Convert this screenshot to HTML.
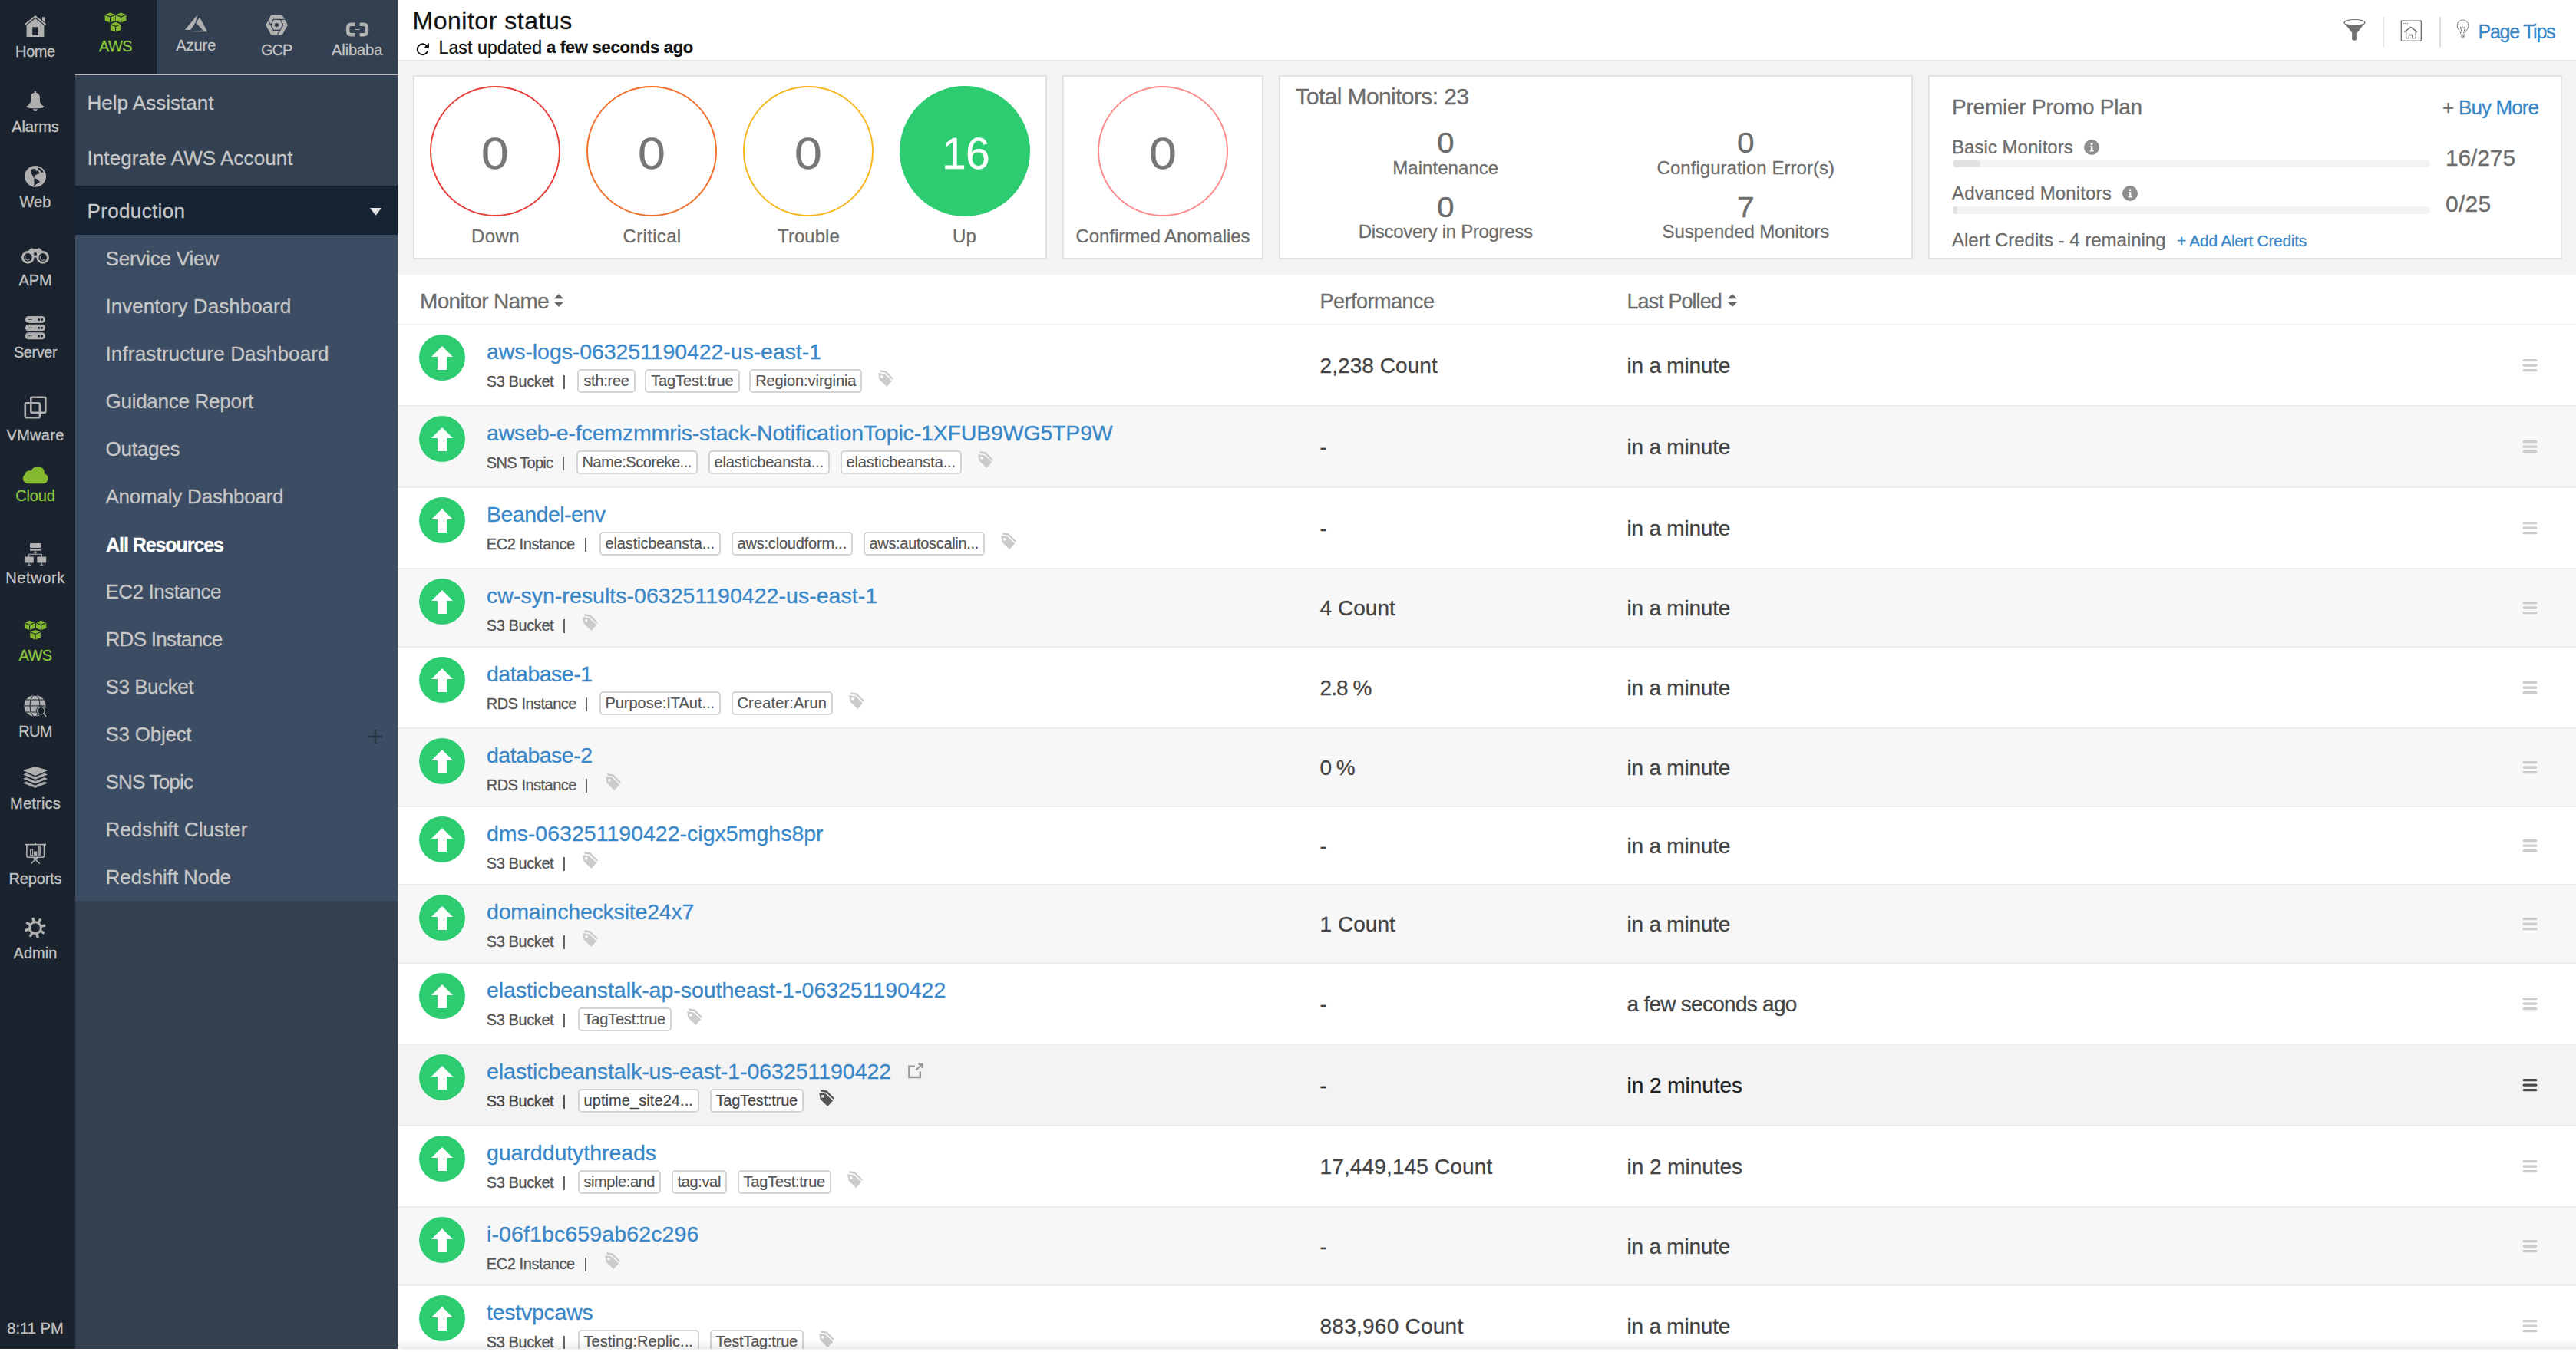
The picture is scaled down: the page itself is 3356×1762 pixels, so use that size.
<!DOCTYPE html>
<html lang="en"><head><meta charset="utf-8"><title>Monitor status</title>
<style>
*{box-sizing:border-box;margin:0;padding:0}
html,body{width:3356px;height:1762px;overflow:hidden;background:#fff}
body{font-family:"Liberation Sans",sans-serif;position:relative;color:#444}
.t{position:absolute;white-space:nowrap;-webkit-text-stroke:.3px currentColor}
.abs{position:absolute}
svg{position:absolute;overflow:visible}
#nav{position:absolute;left:0;top:0;width:98px;height:1758px;background:#1b242e}
#side{position:absolute;left:98px;top:0;width:420px;height:1758px;background:#334051}
#main{position:absolute;left:518px;top:0;width:2838px;height:1762px;background:#fff}
.card{position:absolute;top:98px;height:240px;background:#fff;border:2px solid #e2e2e2}
.circ{position:absolute;width:170px;height:170px;border-radius:50%;border:2px solid #000;top:112px}
.row{position:absolute;left:518px;width:2838px;border-bottom:2px solid #ededed}
.up{position:absolute;width:60px;height:60px;border-radius:50%;background:#2ecc71}
.tag{position:absolute;height:31px;border:2px solid #d4d4d4;border-radius:5px;background:#fff;font-size:20px;line-height:26.5px;color:#555;white-space:nowrap;overflow:hidden;text-align:center;-webkit-text-stroke:.2px currentColor}
</style></head><body>

<div id="nav"></div><div id="side"></div><div id="main"></div>
<div class="t " style="left:20.1px;top:55.0px;font-size:20px;line-height:24px;color:#c3c3c3;letter-spacing:-0.41px;">Home</div>
<div class="t " style="left:15.2px;top:153.1px;font-size:20px;line-height:24px;color:#c3c3c3;letter-spacing:-0.12px;">Alarms</div>
<div class="t " style="left:25.5px;top:250.7px;font-size:20px;line-height:24px;color:#c3c3c3;letter-spacing:0.08px;">Web</div>
<div class="t " style="left:24.4px;top:352.5px;font-size:20px;line-height:24px;color:#c3c3c3;letter-spacing:-0.05px;">APM</div>
<div class="t " style="left:17.9px;top:447.1px;font-size:20px;line-height:24px;color:#c3c3c3;letter-spacing:-0.45px;">Server</div>
<div class="t " style="left:8.5px;top:555.1px;font-size:20px;line-height:24px;color:#c3c3c3;letter-spacing:0.29px;">VMware</div>
<div class="t " style="left:20.2px;top:634.4px;font-size:20px;line-height:24px;color:#8cc63f;letter-spacing:-0.13px;">Cloud</div>
<div class="t " style="left:7.2px;top:741.0px;font-size:20px;line-height:24px;color:#c3c3c3;letter-spacing:0.61px;">Network</div>
<div class="t " style="left:24.4px;top:842.1px;font-size:20px;line-height:24px;color:#8cc63f;letter-spacing:-0.54px;">AWS</div>
<div class="t " style="left:24.2px;top:940.7px;font-size:20px;line-height:24px;color:#c3c3c3;letter-spacing:-0.68px;">RUM</div>
<div class="t " style="left:13.0px;top:1034.5px;font-size:20px;line-height:24px;color:#c3c3c3;letter-spacing:0.22px;">Metrics</div>
<div class="t " style="left:11.6px;top:1132.8px;font-size:20px;line-height:24px;color:#c3c3c3;letter-spacing:-0.19px;">Reports</div>
<div class="t " style="left:17.5px;top:1230.4px;font-size:20px;line-height:24px;color:#c3c3c3;letter-spacing:0.06px;">Admin</div>
<div class="t " style="left:9.3px;top:1718.8px;font-size:20px;line-height:24px;color:#c3c3c3;letter-spacing:0.06px;">8:11 PM</div>
<div class="abs" style="left:98px;top:0;width:106px;height:96px;background:#1b242e"></div>
<div class="abs" style="left:98px;top:96px;width:420px;height:2px;background:#b4b8bd"></div>
<div class="t " style="left:129.0px;top:48.3px;font-size:20px;line-height:24px;color:#8cc63f;letter-spacing:-0.61px;">AWS</div>
<div class="t " style="left:229.2px;top:47.0px;font-size:20px;line-height:24px;color:#c3c3c3;letter-spacing:-0.01px;">Azure</div>
<div class="t " style="left:340.0px;top:52.8px;font-size:20px;line-height:24px;color:#c3c3c3;letter-spacing:-1.05px;">GCP</div>
<div class="t " style="left:432.0px;top:52.8px;font-size:20px;line-height:24px;color:#c3c3c3;letter-spacing:-0.07px;">Alibaba</div>
<svg style="left:0;top:0" width="98" height="1300"><g fill="#b0b0b0"><path d="M46 23.9L57.4 32.9V48.1H34.6V32.9ZM42.2 35.2V45.9H49.8V35.2Z" fill-rule="evenodd"/><path d="M55 22.2H58.8V28.9L55 25.9Z"/><path d="M32.4 32.3L46 21.2L59.6 32.3" fill="none" stroke="#b0b0b0" stroke-width="1.9"/></g><g transform="translate(34 118)" fill="#b0b0b0"><circle cx="11.9" cy="1.9" r="1.4"/><path d="M11.9 2.8C8 2.8 6 5.6 6 9V13.5C6 16.5 4 18.6 .2 20.9C.2 22.6 6 23.2 11.9 23.2S23.6 22.6 23.6 20.9C19.8 18.6 17.9 16.5 17.9 13.5V9C17.9 5.6 15.8 2.8 11.9 2.8Z"/><path d="M9 24.3H14.8A2.9 2.7 0 0 1 9 24.3Z"/></g><g transform="translate(32 215)"><circle cx="14.1" cy="14.8" r="13.9" fill="#b0b0b0"/><path d="M8.3 6.2L10.5 5.3L13.6 4.9L14.4 6.2L15.6 6.6L14.6 8.6L16.4 7.6L17.8 7.2L18.6 9.2L19.6 10.6L18.4 11.4L16.2 12.2L14.4 13L13.4 14.4L12.8 15.4L11.6 15.8L10.6 14.4L10.2 12.8L8.8 11.8L8.2 10.4L8.6 8.6L8 7.4Z M17.2 3.6L20.4 4.6L22.8 6.6L24.8 9.4L23.4 9.6L21.4 10L20.8 8L19 6.4L17.4 5.2Z M13.2 17.8L14.6 17.6L16.4 18.4L18.4 20.2L20 22.4L18.4 23.2L16.6 24.2L14.6 25.4L13.4 26.6L11.6 28.4L12.4 25.4L12.8 22.6L12.2 20.4L12.2 18.6Z M11.4 15L13.6 17.4L13 17.8L10.8 15.6Z" fill="#1b242e"/></g><g><path d="M34.5 335.4C34.5 330 37 325.5 39.6 324.2C40.2 323 42.6 323 43.2 324.2H48.8C49.4 323 51.8 323 52.4 324.2C55 325.5 57.5 330 57.5 335.4Z" fill="#b0b0b0"/><circle cx="36.3" cy="335.4" r="8.3" fill="#b0b0b0"/><circle cx="55.7" cy="335.4" r="8.3" fill="#b0b0b0"/><circle cx="36.3" cy="335.4" r="5.3" fill="#1b242e"/><circle cx="55.7" cy="335.4" r="5.3" fill="#1b242e"/><path d="M33.4 333.5A3.6 3.6 0 0 0 38.6 338.4M52.8 333.5A3.6 3.6 0 0 0 58 338.4" stroke="#b0b0b0" stroke-width="1" fill="none"/><circle cx="46" cy="331" r="2" fill="#1b242e"/></g><rect x="32.9" y="412" width="26.1" height="8.9" rx="4.45" fill="#b0b0b0"/><circle cx="50.7" cy="416.6" r="1.5" fill="#1b242e"/><circle cx="54.6" cy="416.6" r="1.5" fill="#1b242e"/><path d="M36 416.5H41.5" stroke="#1b242e" stroke-width="1" stroke-dasharray="1.5 .6"/><rect x="32.9" y="422.7" width="26.1" height="8.9" rx="4.45" fill="#b0b0b0"/><circle cx="50.7" cy="427.3" r="1.5" fill="#1b242e"/><circle cx="54.6" cy="427.3" r="1.5" fill="#1b242e"/><path d="M36 427.2H41.5" stroke="#1b242e" stroke-width="1" stroke-dasharray="1.5 .6"/><rect x="32.9" y="433.3" width="26.1" height="8.9" rx="4.45" fill="#b0b0b0"/><circle cx="50.7" cy="437.90000000000003" r="1.5" fill="#1b242e"/><circle cx="54.6" cy="437.90000000000003" r="1.5" fill="#1b242e"/><path d="M36 437.8H41.5" stroke="#1b242e" stroke-width="1" stroke-dasharray="1.5 .6"/><g fill="none" stroke="#b0b0b0" stroke-width="2.6"><rect x="40.3" y="517.7" width="19" height="20" rx="1.5"/><rect x="32.8" y="525.2" width="19" height="19" rx="1.5"/></g><g fill="#84b82e"><circle cx="49.2" cy="616.6" r="8.9"/><circle cx="38.4" cy="619.6" r="6.3"/><rect x="29.8" y="616.9" width="32.8" height="13.3" rx="6.6"/></g><g fill="#b0b0b0"><rect x="39" y="708.1" width="14.1" height="6" rx="1"/><rect x="39" y="715" width="14.1" height="2.7" rx="1"/><rect x="31.9" y="725.6" width="11.9" height="7.9" rx="1"/><rect x="48.3" y="725.6" width="11.9" height="7.9" rx="1"/><path d="M46 717.5V722.3M37.8 725.8V722.3H54.3V725.8M43.7 720H48.3M37.8 733.4V736M54.3 733.4V736M35.7 736.2H40M52.2 736.2H56.5" stroke="#b0b0b0" stroke-width="1.1" fill="none"/></g><path d="M38.6 808.8L45.3 811.6V818.6L38.6 821.3L31.9 818.6V811.6Z" fill="#84b82e"/><path d="M31.9 811.6L38.6 814.4L45.3 811.6M38.6 814.4V821.3" stroke="#1b242e" stroke-width="1.1" fill="none"/><path d="M53.6 808.8L60.3 811.6V818.6L53.6 821.3L46.9 818.6V811.6Z" fill="#84b82e"/><path d="M46.9 811.6L53.6 814.4L60.3 811.6M53.6 814.4V821.3" stroke="#1b242e" stroke-width="1.1" fill="none"/><path d="M46.0 820.9L52.8 823.7V831.0L46.0 833.7L39.3 831.0V823.7Z" fill="#84b82e"/><path d="M39.3 823.7L46.0 826.5L52.8 823.7M46.0 826.5V833.7" stroke="#1b242e" stroke-width="1.1" fill="none"/><g><circle cx="45.5" cy="919.9" r="14" fill="#b0b0b0"/><g stroke="#1b242e" stroke-width="1" fill="none"><path d="M45.5 906V934M31.5 919.9H59.5M34 912H57M34 928H57"/><ellipse cx="45.5" cy="919.9" rx="6.5" ry="14"/></g><circle cx="53.4" cy="926.2" r="6.3" fill="#1b242e"/><circle cx="53.4" cy="926.2" r="4.8" fill="none" stroke="#b0b0b0" stroke-width="1.2"/><path d="M56.9 929.8L60.2 933.9" stroke="#b0b0b0" stroke-width="1.4"/></g><g fill="#b0b0b0"><path d="M46 999.6L61.3 1004L46 1010.4L30.8 1004Z" stroke="#b0b0b0" stroke-width="1" stroke-linejoin="round"/><path d="M30.8 1009.5L34 1007.9L46 1012.9L58 1007.9L61.3 1009.5L46 1015.5Z" stroke="#b0b0b0" stroke-width=".6" stroke-linejoin="round"/><path d="M30.8 1015L34 1013.4L46 1018.4L58 1013.4L61.3 1015L46 1021Z" stroke="#b0b0b0" stroke-width=".6" stroke-linejoin="round"/><path d="M30.8 1020.5L34 1018.9L46 1023.9L58 1018.9L61.3 1020.5L46 1026.5Z" stroke="#b0b0b0" stroke-width=".6" stroke-linejoin="round"/></g><g fill="none" stroke="#b0b0b0" stroke-width="1.6"><path d="M32.1 1100.6H60M46 1098V1100.6"/><path d="M34.9 1101V1115.2Q34.9 1117.2 36.9 1117.2H55.5Q57.5 1117.2 57.5 1115.2V1101"/><rect x="39.6" y="1107" width="3" height="7.4" stroke-width="1.1"/><path d="M46 1120L40.4 1125.8M46 1120L51.8 1125.8" stroke-width="1.5"/></g><rect x="44" y="1109.5" width="4.3" height="5.4" fill="#b0b0b0"/><rect x="49" y="1102.4" width="4.1" height="12.5" fill="#b0b0b0" opacity=".8"/><rect x="43.5" y="1117.8" width="5.6" height="2.6" fill="#b0b0b0"/><circle cx="46" cy="1209.2" r="7.4" fill="none" stroke="#b0b0b0" stroke-width="3"/><path d="M44.2 1202.0L42.7 1196.0M49.8 1202.9L53.0 1197.5M53.2 1207.4L59.2 1205.9M52.3 1213.0L57.7 1216.2M47.8 1216.4L49.3 1222.4M42.2 1215.5L39.0 1220.9M38.8 1211.0L32.8 1212.5M39.7 1205.4L34.3 1202.2" stroke="#b0b0b0" stroke-width="3.4"/></svg>
<svg style="left:0;top:0" width="518" height="96"><path d="M143.5 16.5L150.3 19.3V26.9L143.5 29.6L136.7 26.9V19.3Z" fill="#84b82e"/><path d="M136.7 19.3L143.5 22.1L150.3 19.3M143.5 22.1V29.6" stroke="#1b242e" stroke-width="1.1" fill="none"/><path d="M157.6 16.5L164.4 19.3V26.9L157.6 29.6L150.8 26.9V19.3Z" fill="#84b82e"/><path d="M150.8 19.3L157.6 22.1L164.4 19.3M157.6 22.1V29.6" stroke="#1b242e" stroke-width="1.1" fill="none"/><path d="M150.6 28.7L157.4 31.5V39.1L150.6 41.8L143.8 39.1V31.5Z" fill="#84b82e"/><path d="M143.8 31.5L150.6 34.3L157.4 31.5M150.6 34.3V41.8" stroke="#1b242e" stroke-width="1.1" fill="none"/><g fill="#b0b0b0"><path d="M257.7 18.7L240.9 39H248.3L254.6 29.3Z"/><path d="M260.1 22.5L270.1 41.3H249L264.6 39.6L255.2 30Z"/></g><path d="M346.6 32.6L353.5 19.9H367.4L374.4 32.6L367.4 45.1H353.5Z" fill="#b0b0b0" stroke="#b0b0b0" stroke-width="1" stroke-linejoin="round"/><path d="M352.8 32.6L356.2 25.4H365.2L369 32.6L364.7 39.3H356.3ZM365 25.4H370.4M349.4 26.6L352.9 32.8M364.8 39.2L361.5 45.2" stroke="#334051" stroke-width="1.15" fill="none"/><circle cx="360.5" cy="32.6" r="2.7" fill="#334051"/><g fill="none" stroke="#b0b0b0" stroke-width="4.4" stroke-linejoin="round"><path d="M462.5 31.7H457.5Q453.2 31.7 453.2 36V41Q453.2 45.3 457.5 45.3H462.5"/><path d="M468.7 31.7H473.7Q478 31.7 478 36V41Q478 45.3 473.7 45.3H468.7"/></g><path d="M462.8 38.5H468.5" stroke="#b0b0b0" stroke-width="1"/></svg>
<div class="t " style="left:113.5px;top:119.3px;font-size:26px;line-height:31px;color:#c6c6c6;letter-spacing:0.02px;">Help Assistant</div>
<div class="t " style="left:113.5px;top:191.2px;font-size:26px;line-height:31px;color:#c6c6c6;letter-spacing:0.08px;">Integrate AWS Account</div>
<div class="abs" style="left:98px;top:242px;width:420px;height:64px;background:#152333"></div>
<div class="t " style="left:113.5px;top:259.5px;font-size:26px;line-height:31px;color:#c6c6c6;letter-spacing:0.35px;">Production</div>
<svg style="left:482px;top:271px" width="15" height="10"><path d="M0 0H15L7.5 10Z" fill="#e4e4e4"/></svg>
<div class="abs" style="left:98px;top:306px;width:420px;height:868px;background:#3c4c63"></div>
<div class="t " style="left:137.5px;top:321.7px;font-size:26px;line-height:31px;color:#c6c6c6;letter-spacing:-0.21px;">Service View</div>
<div class="t " style="left:137.5px;top:383.7px;font-size:26px;line-height:31px;color:#c6c6c6;letter-spacing:0.02px;">Inventory Dashboard</div>
<div class="t " style="left:137.5px;top:445.7px;font-size:26px;line-height:31px;color:#c6c6c6;letter-spacing:0.15px;">Infrastructure Dashboard</div>
<div class="t " style="left:137.5px;top:507.7px;font-size:26px;line-height:31px;color:#c6c6c6;letter-spacing:-0.27px;">Guidance Report</div>
<div class="t " style="left:137.5px;top:569.7px;font-size:26px;line-height:31px;color:#c6c6c6;letter-spacing:-0.23px;">Outages</div>
<div class="t " style="left:137.5px;top:631.7px;font-size:26px;line-height:31px;color:#c6c6c6;letter-spacing:-0.22px;">Anomaly Dashboard</div>
<div class="t " style="left:138.0px;top:694.5px;font-size:25px;line-height:30px;color:#ffffff;letter-spacing:-1.06px;font-weight:bold;">All Resources</div>
<div class="t " style="left:137.5px;top:755.7px;font-size:26px;line-height:31px;color:#c6c6c6;letter-spacing:-0.47px;">EC2 Instance</div>
<div class="t " style="left:137.5px;top:817.7px;font-size:26px;line-height:31px;color:#c6c6c6;letter-spacing:-0.70px;">RDS Instance</div>
<div class="t " style="left:137.5px;top:879.7px;font-size:26px;line-height:31px;color:#c6c6c6;letter-spacing:-0.45px;">S3 Bucket</div>
<div class="t " style="left:137.5px;top:941.7px;font-size:26px;line-height:31px;color:#c6c6c6;letter-spacing:-0.26px;">S3 Object</div>
<div class="t " style="left:137.5px;top:1003.7px;font-size:26px;line-height:31px;color:#c6c6c6;letter-spacing:-0.80px;">SNS Topic</div>
<div class="t " style="left:137.5px;top:1065.7px;font-size:26px;line-height:31px;color:#c6c6c6;letter-spacing:-0.01px;">Redshift Cluster</div>
<div class="t " style="left:137.5px;top:1127.7px;font-size:26px;line-height:31px;color:#c6c6c6;letter-spacing:-0.11px;">Redshift Node</div>
<svg style="left:479px;top:950px" width="20" height="20"><path d="M10 1V19M1 10H19" stroke="#27323f" stroke-width="2.4" fill="none"/></svg>
<div class="t " style="left:537.5px;top:7.8px;font-size:32px;line-height:38px;color:#111;letter-spacing:0.52px;">Monitor status</div>
<div class="t " style="left:571.5px;top:47.5px;font-size:23px;line-height:28px;color:#111;letter-spacing:0.13px;">Last updated</div>
<div class="t " style="left:712.0px;top:48.9px;font-size:22px;line-height:26px;color:#111;letter-spacing:-0.27px;font-weight:bold;">a few seconds ago</div>
<div class="abs" style="left:518px;top:78px;width:2838px;height:280px;background:#f1f3f5;border-top:2px solid #e2e2e2"></div>
<div class="t " style="left:3228.5px;top:25.5px;font-size:25px;line-height:30px;color:#3a87c8;letter-spacing:-1.27px;">Page Tips</div>
<div class="abs" style="left:3104px;top:22px;width:2px;height:39px;background:#dcdcdc"></div>
<div class="abs" style="left:3178px;top:22px;width:2px;height:39px;background:#dcdcdc"></div>
<svg style="left:0;top:0" width="3356" height="78"><path d="M3053.8 29.4L3064.1 42.8V51Q3064.1 52.7 3067.5 52.7T3070.9 51V42.8L3081.2 29.4Q3067.5 36 3053.8 29.4Z" fill="#707070"/><ellipse cx="3067.5" cy="29.4" rx="13.4" ry="3.9" fill="#fff" stroke="#707070" stroke-width="1.2"/><g fill="none" stroke="#707070" stroke-width="1.3"><rect x="3128.3" y="27.1" width="26" height="26.2"/><path d="M3132.2 41.6L3140.7 35.4L3149.3 41.6M3134.6 40.2V49.6H3138.4V45.5H3142.8V49.6H3147.2V40.2"/><path d="M3130.8 30.6H3137" stroke-dasharray="1.4 1" stroke-width="1"/></g><g fill="none" stroke="#808080" stroke-width="1"><path d="M3205.9 44.2C3205.6 40 3201.1 38.5 3201.1 33.3A7.4 7.4 0 0 1 3215.9 33.3C3215.9 38.5 3211.4 40 3211.1 44.2"/><path d="M3205.4 35L3207.4 43.5M3211.6 35L3209.6 43.5M3205.4 35L3207 36.4L3208.5 35L3210 36.4L3211.6 35"/><path d="M3206 45.4H3211M3206 47.2H3211M3206.3 49H3210.7" stroke-width="1.2"/></g><g fill="none" stroke="#111" stroke-width="1.9"><path d="M556.3 60.1A7 7 0 1 0 557.3 66.3"/></g><path d="M552.3 62.2L558.9 62.4L558.8 55.8Z" fill="#111"/></svg>
<div class="card" style="left:538px;width:826px"></div>
<div class="card" style="left:1384px;width:262px"></div>
<div class="card" style="left:1666px;width:826px"></div>
<div class="card" style="left:2512px;width:826px"></div>
<div class="circ" style="left:560px;border-color:#e8403a"></div>
<div class="t " style="left:629.1px;top:166.2px;font-size:57px;line-height:68px;color:#777;transform:scaleX(1.13);">0</div>
<div class="t " style="left:614.1px;top:292.7px;font-size:24px;line-height:29px;color:#6c6c6c;letter-spacing:0.36px;">Down</div>
<div class="circ" style="left:764px;border-color:#f0702c"></div>
<div class="t " style="left:833.1px;top:166.2px;font-size:57px;line-height:68px;color:#777;transform:scaleX(1.13);">0</div>
<div class="t " style="left:811.5px;top:292.7px;font-size:24px;line-height:29px;color:#6c6c6c;letter-spacing:0.33px;">Critical</div>
<div class="circ" style="left:968px;border-color:#f7b71d"></div>
<div class="t " style="left:1037.1px;top:166.2px;font-size:57px;line-height:68px;color:#777;transform:scaleX(1.13);">0</div>
<div class="t " style="left:1013.1px;top:292.7px;font-size:24px;line-height:29px;color:#6c6c6c;letter-spacing:0.03px;">Trouble</div>
<div class="circ" style="left:1172px;border-color:#2ecc71;background:#2ecc71"></div>
<div class="t " style="left:1227.0px;top:166.2px;font-size:57px;line-height:68px;color:#fff;letter-spacing:-0.70px;">16</div>
<div class="t " style="left:1241.0px;top:292.7px;font-size:24px;line-height:29px;color:#6c6c6c;letter-spacing:0.16px;">Up</div>
<div class="circ" style="left:1430px;border-color:#ff8c8c"></div>
<div class="t " style="left:1499.1px;top:166.2px;font-size:57px;line-height:68px;color:#777;transform:scaleX(1.13);">0</div>
<div class="t " style="left:1401.5px;top:292.7px;font-size:24px;line-height:29px;color:#6c6c6c;letter-spacing:-0.06px;">Confirmed Anomalies</div>
<div class="t " style="left:1687.5px;top:107.6px;font-size:30px;line-height:36px;color:#6c6c6c;letter-spacing:-0.61px;">Total Monitors: 23</div>
<div class="t " style="left:1873.0px;top:165.2px;font-size:37px;line-height:44px;color:#6c6c6c;transform:scaleX(1.1);">0</div>
<div class="t " style="left:1814.2px;top:203.6px;font-size:24px;line-height:29px;color:#6c6c6c;letter-spacing:0.06px;">Maintenance</div>
<div class="t " style="left:2264.0px;top:165.2px;font-size:37px;line-height:44px;color:#6c6c6c;transform:scaleX(1.1);">0</div>
<div class="t " style="left:2158.6px;top:203.6px;font-size:24px;line-height:29px;color:#6c6c6c;letter-spacing:0.03px;">Configuration Error(s)</div>
<div class="t " style="left:1873.0px;top:248.8px;font-size:37px;line-height:44px;color:#6c6c6c;transform:scaleX(1.1);">0</div>
<div class="t " style="left:1769.8px;top:287.2px;font-size:24px;line-height:29px;color:#6c6c6c;letter-spacing:-0.31px;">Discovery in Progress</div>
<div class="t " style="left:2264.0px;top:248.8px;font-size:37px;line-height:44px;color:#6c6c6c;transform:scaleX(1.1);">7</div>
<div class="t " style="left:2165.6px;top:287.2px;font-size:24px;line-height:29px;color:#6c6c6c;letter-spacing:-0.15px;">Suspended Monitors</div>
<div class="t " style="left:2543.0px;top:123.0px;font-size:28px;line-height:34px;color:#6c6c6c;letter-spacing:-0.23px;">Premier Promo Plan</div>
<div class="t " style="left:3182.0px;top:125.2px;font-size:26px;line-height:31px;color:#6c6c6c;">+</div>
<div class="t " style="left:3203.0px;top:125.2px;font-size:26px;line-height:31px;color:#3a87c8;letter-spacing:-0.91px;">Buy More</div>
<div class="t " style="left:2543.0px;top:177.2px;font-size:24px;line-height:29px;color:#6c6c6c;letter-spacing:0.03px;">Basic Monitors</div>
<div class="t " style="left:2543.0px;top:237.4px;font-size:24px;line-height:29px;color:#6c6c6c;letter-spacing:0.14px;">Advanced Monitors</div>
<svg style="left:2715.2px;top:182.2px" width="20" height="20" viewBox="0 0 20 20"><circle cx="10" cy="10" r="10" fill="#8e8e8e"/><path d="M8 8.2h3.4v5.6h1.2v1.6H7.6v-1.6h1.3V9.8H8zM8.7 4.6h2.6v2.3H8.7z" fill="#fff"/></svg>
<svg style="left:2764.6px;top:242px" width="20" height="20" viewBox="0 0 20 20"><circle cx="10" cy="10" r="10" fill="#8e8e8e"/><path d="M8 8.2h3.4v5.6h1.2v1.6H7.6v-1.6h1.3V9.8H8zM8.7 4.6h2.6v2.3H8.7z" fill="#fff"/></svg>
<div class="abs" style="left:2544px;top:208px;width:622px;height:10px;border-radius:5px;background:#f3f3f3"></div>
<div class="abs" style="left:2544px;top:208px;width:36px;height:10px;border-radius:5px;background:#e2e2e2"></div>
<div class="abs" style="left:2544px;top:268.5px;width:622px;height:10px;border-radius:5px;background:#f3f3f3"></div>
<div class="abs" style="left:2544px;top:268.5px;width:6px;height:10px;border-radius:3px 0 0 3px;background:#e2e2e2"></div>
<div class="t " style="left:3186.0px;top:187.6px;font-size:30px;line-height:36px;color:#6c6c6c;letter-spacing:-0.13px;">16/275</div>
<div class="t " style="left:3186.0px;top:247.8px;font-size:30px;line-height:36px;color:#6c6c6c;letter-spacing:0.28px;">0/25</div>
<div class="t " style="left:2543.0px;top:297.6px;font-size:24px;line-height:29px;color:#6c6c6c;letter-spacing:-0.01px;">Alert Credits - 4 remaining</div>
<div class="t " style="left:2836.0px;top:300.6px;font-size:21px;line-height:25px;color:#3a87c8;letter-spacing:-0.29px;">+ Add Alert Credits</div>
<div class="t " style="left:547.0px;top:375.9px;font-size:28px;line-height:34px;color:#6c6c6c;letter-spacing:-0.65px;">Monitor Name</div>
<div class="t " style="left:1719.5px;top:377.2px;font-size:27px;line-height:32px;color:#6c6c6c;letter-spacing:-0.51px;">Performance</div>
<div class="t " style="left:2119.5px;top:377.2px;font-size:27px;line-height:32px;color:#6c6c6c;letter-spacing:-0.93px;">Last Polled</div>
<svg style="left:721.6px;top:383px" width="12" height="17"><path d="M0 6.2L6 0L12 6.2ZM0 10.8L6 17L12 10.8Z" fill="#666"/></svg>
<svg style="left:2250.7px;top:383px" width="12" height="17"><path d="M0 6.2L6 0L12 6.2ZM0 10.8L6 17L12 10.8Z" fill="#666"/></svg>
<div class="abs" style="left:518px;top:422px;width:2838px;height:2px;background:#ededed"></div>
<div class="row" style="top:424px;height:106px;background:#fff"></div>
<div class="up" style="left:546px;top:436px"><svg style="left:0;top:0" width="60" height="60"><path d="M30 15L44 29H36V46H24V29H16Z" fill="#fff"/></svg></div>
<div class="t " style="left:634.0px;top:441.4px;font-size:28.5px;line-height:34px;color:#3a87c8;letter-spacing:-0.08px;">aws-logs-063251190422-us-east-1</div>
<div class="t " style="left:633.8px;top:484.6px;font-size:20px;line-height:24px;color:#555;letter-spacing:-0.41px;">S3 Bucket</div>
<div class="abs" style="left:734.0px;top:488.7px;width:1.8px;height:18.5px;background:#666"></div>
<div class="tag" style="left:752.4px;top:480.5px;width:75.2px;letter-spacing:-0.28px;color:#555">sth:ree</div>
<div class="tag" style="left:840.2px;top:480.5px;width:123.4px;letter-spacing:-0.13px;color:#555">TagTest:true</div>
<div class="tag" style="left:976.2px;top:480.5px;width:147.2px;letter-spacing:-0.07px;color:#555">Region:virginia</div>
<svg style="left:1144px;top:482px" width="21" height="23" fill="#cbcbcb"><path d="M0.2 4.1L8.7 5.4L18.1 14.6L11.3 22L1.5 12.6ZM4.8 7a1.8 1.8 0 1 0 .01 0ZM2.2 .2L10.2 1.3L20 11.3L18.7 13.1L9 3.7L2.4 2.8Z" fill-rule="evenodd"/></svg>
<div class="t " style="left:1719.5px;top:459.6px;font-size:28px;line-height:34px;color:#444;letter-spacing:0.07px;">2,238 Count</div>
<div class="t " style="left:2119.5px;top:459.6px;font-size:28px;line-height:34px;color:#444;letter-spacing:-0.22px;">in a minute</div>
<svg style="left:3286px;top:468.0px" width="20" height="17"><path d="M2 1.6H18M2 8.1H18M2 14.6H18" stroke="#cccccc" stroke-width="3.1" stroke-linecap="round"/></svg>
<div class="row" style="top:530px;height:106px;background:#f7f7f7"></div>
<div class="up" style="left:546px;top:542px"><svg style="left:0;top:0" width="60" height="60"><path d="M30 15L44 29H36V46H24V29H16Z" fill="#fff"/></svg></div>
<div class="t " style="left:634.0px;top:547.4px;font-size:28.5px;line-height:34px;color:#3a87c8;letter-spacing:-0.17px;">awseb-e-fcemzmmris-stack-NotificationTopic-1XFUB9WG5TP9W</div>
<div class="t " style="left:633.8px;top:590.6px;font-size:20px;line-height:24px;color:#555;letter-spacing:-0.72px;">SNS Topic</div>
<div class="abs" style="left:733.5px;top:594.7px;width:1.8px;height:18.5px;background:#666"></div>
<div class="tag" style="left:750.5px;top:586.5px;width:158.5px;letter-spacing:-0.43px;color:#555">Name:Scoreke...</div>
<div class="tag" style="left:922.5px;top:586.5px;width:158.5px;letter-spacing:-0.12px;color:#555">elasticbeansta...</div>
<div class="tag" style="left:1094.5px;top:586.5px;width:158.5px;letter-spacing:-0.12px;color:#555">elasticbeansta...</div>
<svg style="left:1274px;top:588px" width="21" height="23" fill="#cbcbcb"><path d="M0.2 4.1L8.7 5.4L18.1 14.6L11.3 22L1.5 12.6ZM4.8 7a1.8 1.8 0 1 0 .01 0ZM2.2 .2L10.2 1.3L20 11.3L18.7 13.1L9 3.7L2.4 2.8Z" fill-rule="evenodd"/></svg>
<div class="t " style="left:1719.5px;top:565.6px;font-size:28px;line-height:34px;color:#444;">-</div>
<div class="t " style="left:2119.5px;top:565.6px;font-size:28px;line-height:34px;color:#444;letter-spacing:-0.22px;">in a minute</div>
<svg style="left:3286px;top:574.0px" width="20" height="17"><path d="M2 1.6H18M2 8.1H18M2 14.6H18" stroke="#cccccc" stroke-width="3.1" stroke-linecap="round"/></svg>
<div class="row" style="top:636px;height:106px;background:#fff"></div>
<div class="up" style="left:546px;top:648px"><svg style="left:0;top:0" width="60" height="60"><path d="M30 15L44 29H36V46H24V29H16Z" fill="#fff"/></svg></div>
<div class="t " style="left:634.0px;top:653.4px;font-size:28.5px;line-height:34px;color:#3a87c8;letter-spacing:-0.50px;">Beandel-env</div>
<div class="t " style="left:633.8px;top:696.6px;font-size:20px;line-height:24px;color:#555;letter-spacing:-0.42px;">EC2 Instance</div>
<div class="abs" style="left:762.0px;top:700.7px;width:1.8px;height:18.5px;background:#666"></div>
<div class="tag" style="left:780.5px;top:692.5px;width:158.5px;letter-spacing:-0.12px;color:#555">elasticbeansta...</div>
<div class="tag" style="left:952.5px;top:692.5px;width:158.5px;letter-spacing:-0.19px;color:#555">aws:cloudform...</div>
<div class="tag" style="left:1124.5px;top:692.5px;width:158.5px;letter-spacing:-0.31px;color:#555">aws:autoscalin...</div>
<svg style="left:1304px;top:694px" width="21" height="23" fill="#cbcbcb"><path d="M0.2 4.1L8.7 5.4L18.1 14.6L11.3 22L1.5 12.6ZM4.8 7a1.8 1.8 0 1 0 .01 0ZM2.2 .2L10.2 1.3L20 11.3L18.7 13.1L9 3.7L2.4 2.8Z" fill-rule="evenodd"/></svg>
<div class="t " style="left:1719.5px;top:671.6px;font-size:28px;line-height:34px;color:#444;">-</div>
<div class="t " style="left:2119.5px;top:671.6px;font-size:28px;line-height:34px;color:#444;letter-spacing:-0.22px;">in a minute</div>
<svg style="left:3286px;top:680.0px" width="20" height="17"><path d="M2 1.6H18M2 8.1H18M2 14.6H18" stroke="#cccccc" stroke-width="3.1" stroke-linecap="round"/></svg>
<div class="row" style="top:742px;height:102px;background:#f7f7f7"></div>
<div class="up" style="left:546px;top:754px"><svg style="left:0;top:0" width="60" height="60"><path d="M30 15L44 29H36V46H24V29H16Z" fill="#fff"/></svg></div>
<div class="t " style="left:634.0px;top:759.4px;font-size:28.5px;line-height:34px;color:#3a87c8;letter-spacing:0.03px;">cw-syn-results-063251190422-us-east-1</div>
<div class="t " style="left:633.8px;top:802.6px;font-size:20px;line-height:24px;color:#555;letter-spacing:-0.41px;">S3 Bucket</div>
<div class="abs" style="left:734.0px;top:806.7px;width:1.8px;height:18.5px;background:#666"></div>
<svg style="left:758.5px;top:800px" width="21" height="23" fill="#cbcbcb"><path d="M0.2 4.1L8.7 5.4L18.1 14.6L11.3 22L1.5 12.6ZM4.8 7a1.8 1.8 0 1 0 .01 0ZM2.2 .2L10.2 1.3L20 11.3L18.7 13.1L9 3.7L2.4 2.8Z" fill-rule="evenodd"/></svg>
<div class="t " style="left:1719.5px;top:775.6px;font-size:28px;line-height:34px;color:#444;letter-spacing:0.05px;">4 Count</div>
<div class="t " style="left:2119.5px;top:775.6px;font-size:28px;line-height:34px;color:#444;letter-spacing:-0.22px;">in a minute</div>
<svg style="left:3286px;top:784.0px" width="20" height="17"><path d="M2 1.6H18M2 8.1H18M2 14.6H18" stroke="#cccccc" stroke-width="3.1" stroke-linecap="round"/></svg>
<div class="row" style="top:844px;height:106px;background:#fff"></div>
<div class="up" style="left:546px;top:856px"><svg style="left:0;top:0" width="60" height="60"><path d="M30 15L44 29H36V46H24V29H16Z" fill="#fff"/></svg></div>
<div class="t " style="left:634.0px;top:861.4px;font-size:28.5px;line-height:34px;color:#3a87c8;letter-spacing:-0.51px;">database-1</div>
<div class="t " style="left:633.8px;top:904.6px;font-size:20px;line-height:24px;color:#555;letter-spacing:-0.53px;">RDS Instance</div>
<div class="abs" style="left:763.5px;top:908.7px;width:1.8px;height:18.5px;background:#666"></div>
<div class="tag" style="left:780.5px;top:900.5px;width:158.5px;letter-spacing:-0.03px;color:#555">Purpose:ITAut...</div>
<div class="tag" style="left:952.5px;top:900.5px;width:132.5px;letter-spacing:0.17px;color:#555">Creater:Arun</div>
<svg style="left:1106px;top:902px" width="21" height="23" fill="#cbcbcb"><path d="M0.2 4.1L8.7 5.4L18.1 14.6L11.3 22L1.5 12.6ZM4.8 7a1.8 1.8 0 1 0 .01 0ZM2.2 .2L10.2 1.3L20 11.3L18.7 13.1L9 3.7L2.4 2.8Z" fill-rule="evenodd"/></svg>
<div class="t " style="left:1719.5px;top:879.6px;font-size:28px;line-height:34px;color:#444;letter-spacing:-0.92px;">2.8 %</div>
<div class="t " style="left:2119.5px;top:879.6px;font-size:28px;line-height:34px;color:#444;letter-spacing:-0.22px;">in a minute</div>
<svg style="left:3286px;top:888.0px" width="20" height="17"><path d="M2 1.6H18M2 8.1H18M2 14.6H18" stroke="#cccccc" stroke-width="3.1" stroke-linecap="round"/></svg>
<div class="row" style="top:950px;height:102px;background:#f7f7f7"></div>
<div class="up" style="left:546px;top:962px"><svg style="left:0;top:0" width="60" height="60"><path d="M30 15L44 29H36V46H24V29H16Z" fill="#fff"/></svg></div>
<div class="t " style="left:634.0px;top:967.4px;font-size:28.5px;line-height:34px;color:#3a87c8;letter-spacing:-0.51px;">database-2</div>
<div class="t " style="left:633.8px;top:1010.6px;font-size:20px;line-height:24px;color:#555;letter-spacing:-0.53px;">RDS Instance</div>
<div class="abs" style="left:763.5px;top:1014.7px;width:1.8px;height:18.5px;background:#666"></div>
<svg style="left:788.5px;top:1008px" width="21" height="23" fill="#cbcbcb"><path d="M0.2 4.1L8.7 5.4L18.1 14.6L11.3 22L1.5 12.6ZM4.8 7a1.8 1.8 0 1 0 .01 0ZM2.2 .2L10.2 1.3L20 11.3L18.7 13.1L9 3.7L2.4 2.8Z" fill-rule="evenodd"/></svg>
<div class="t " style="left:1719.5px;top:983.6px;font-size:28px;line-height:34px;color:#444;letter-spacing:-1.08px;">0 %</div>
<div class="t " style="left:2119.5px;top:983.6px;font-size:28px;line-height:34px;color:#444;letter-spacing:-0.22px;">in a minute</div>
<svg style="left:3286px;top:992.0px" width="20" height="17"><path d="M2 1.6H18M2 8.1H18M2 14.6H18" stroke="#cccccc" stroke-width="3.1" stroke-linecap="round"/></svg>
<div class="row" style="top:1052px;height:102px;background:#fff"></div>
<div class="up" style="left:546px;top:1064px"><svg style="left:0;top:0" width="60" height="60"><path d="M30 15L44 29H36V46H24V29H16Z" fill="#fff"/></svg></div>
<div class="t " style="left:634.0px;top:1069.4px;font-size:28.5px;line-height:34px;color:#3a87c8;letter-spacing:0.01px;">dms-063251190422-cigx5mghs8pr</div>
<div class="t " style="left:633.8px;top:1112.6px;font-size:20px;line-height:24px;color:#555;letter-spacing:-0.41px;">S3 Bucket</div>
<div class="abs" style="left:734.0px;top:1116.7px;width:1.8px;height:18.5px;background:#666"></div>
<svg style="left:758.5px;top:1110px" width="21" height="23" fill="#cbcbcb"><path d="M0.2 4.1L8.7 5.4L18.1 14.6L11.3 22L1.5 12.6ZM4.8 7a1.8 1.8 0 1 0 .01 0ZM2.2 .2L10.2 1.3L20 11.3L18.7 13.1L9 3.7L2.4 2.8Z" fill-rule="evenodd"/></svg>
<div class="t " style="left:1719.5px;top:1085.6px;font-size:28px;line-height:34px;color:#444;">-</div>
<div class="t " style="left:2119.5px;top:1085.6px;font-size:28px;line-height:34px;color:#444;letter-spacing:-0.22px;">in a minute</div>
<svg style="left:3286px;top:1094.0px" width="20" height="17"><path d="M2 1.6H18M2 8.1H18M2 14.6H18" stroke="#cccccc" stroke-width="3.1" stroke-linecap="round"/></svg>
<div class="row" style="top:1154px;height:102px;background:#f7f7f7"></div>
<div class="up" style="left:546px;top:1166px"><svg style="left:0;top:0" width="60" height="60"><path d="M30 15L44 29H36V46H24V29H16Z" fill="#fff"/></svg></div>
<div class="t " style="left:634.0px;top:1171.4px;font-size:28.5px;line-height:34px;color:#3a87c8;letter-spacing:-0.21px;">domainchecksite24x7</div>
<div class="t " style="left:633.8px;top:1214.6px;font-size:20px;line-height:24px;color:#555;letter-spacing:-0.41px;">S3 Bucket</div>
<div class="abs" style="left:734.0px;top:1218.7px;width:1.8px;height:18.5px;background:#666"></div>
<svg style="left:758.5px;top:1212px" width="21" height="23" fill="#cbcbcb"><path d="M0.2 4.1L8.7 5.4L18.1 14.6L11.3 22L1.5 12.6ZM4.8 7a1.8 1.8 0 1 0 .01 0ZM2.2 .2L10.2 1.3L20 11.3L18.7 13.1L9 3.7L2.4 2.8Z" fill-rule="evenodd"/></svg>
<div class="t " style="left:1719.5px;top:1187.6px;font-size:28px;line-height:34px;color:#444;letter-spacing:0.05px;">1 Count</div>
<div class="t " style="left:2119.5px;top:1187.6px;font-size:28px;line-height:34px;color:#444;letter-spacing:-0.22px;">in a minute</div>
<svg style="left:3286px;top:1196.0px" width="20" height="17"><path d="M2 1.6H18M2 8.1H18M2 14.6H18" stroke="#cccccc" stroke-width="3.1" stroke-linecap="round"/></svg>
<div class="row" style="top:1256px;height:106px;background:#fff"></div>
<div class="up" style="left:546px;top:1268px"><svg style="left:0;top:0" width="60" height="60"><path d="M30 15L44 29H36V46H24V29H16Z" fill="#fff"/></svg></div>
<div class="t " style="left:634.0px;top:1273.4px;font-size:28.5px;line-height:34px;color:#3a87c8;letter-spacing:-0.04px;">elasticbeanstalk-ap-southeast-1-063251190422</div>
<div class="t " style="left:633.8px;top:1316.6px;font-size:20px;line-height:24px;color:#555;letter-spacing:-0.41px;">S3 Bucket</div>
<div class="abs" style="left:734.0px;top:1320.7px;width:1.8px;height:18.5px;background:#666"></div>
<div class="tag" style="left:752.5px;top:1312.5px;width:122.5px;letter-spacing:-0.20px;color:#555">TagTest:true</div>
<svg style="left:895px;top:1314px" width="21" height="23" fill="#cbcbcb"><path d="M0.2 4.1L8.7 5.4L18.1 14.6L11.3 22L1.5 12.6ZM4.8 7a1.8 1.8 0 1 0 .01 0ZM2.2 .2L10.2 1.3L20 11.3L18.7 13.1L9 3.7L2.4 2.8Z" fill-rule="evenodd"/></svg>
<div class="t " style="left:1719.5px;top:1291.6px;font-size:28px;line-height:34px;color:#444;">-</div>
<div class="t " style="left:2119.5px;top:1291.6px;font-size:28px;line-height:34px;color:#444;letter-spacing:-0.73px;">a few seconds ago</div>
<svg style="left:3286px;top:1300.0px" width="20" height="17"><path d="M2 1.6H18M2 8.1H18M2 14.6H18" stroke="#cccccc" stroke-width="3.1" stroke-linecap="round"/></svg>
<div class="row" style="top:1362px;height:106px;background:#f3f3f3"></div>
<div class="up" style="left:546px;top:1374px"><svg style="left:0;top:0" width="60" height="60"><path d="M30 15L44 29H36V46H24V29H16Z" fill="#fff"/></svg></div>
<div class="t " style="left:634.0px;top:1379.4px;font-size:28.5px;line-height:34px;color:#3a87c8;letter-spacing:-0.04px;">elasticbeanstalk-us-east-1-063251190422</div>
<div class="t " style="left:633.8px;top:1422.6px;font-size:20px;line-height:24px;color:#444;letter-spacing:-0.41px;">S3 Bucket</div>
<div class="abs" style="left:734.0px;top:1426.7px;width:1.8px;height:18.5px;background:#555"></div>
<div class="tag" style="left:752.5px;top:1418.5px;width:158.5px;letter-spacing:0.08px;color:#444">uptime_site24...</div>
<div class="tag" style="left:924.5px;top:1418.5px;width:122.5px;letter-spacing:-0.20px;color:#444">TagTest:true</div>
<svg style="left:1067px;top:1420px" width="21" height="23" fill="#555"><path d="M0.2 4.1L8.7 5.4L18.1 14.6L11.3 22L1.5 12.6ZM4.8 7a1.8 1.8 0 1 0 .01 0ZM2.2 .2L10.2 1.3L20 11.3L18.7 13.1L9 3.7L2.4 2.8Z" fill-rule="evenodd"/></svg>
<div class="t " style="left:1719.5px;top:1397.6px;font-size:28px;line-height:34px;color:#222;">-</div>
<div class="t " style="left:2119.5px;top:1397.6px;font-size:28px;line-height:34px;color:#222;letter-spacing:-0.04px;">in 2 minutes</div>
<svg style="left:3286px;top:1406.0px" width="20" height="17"><path d="M2 1.6H18M2 8.1H18M2 14.6H18" stroke="#4a4a4a" stroke-width="3.1" stroke-linecap="round"/></svg>
<svg style="left:1182px;top:1386px" width="20" height="20" fill="none" stroke="#999" stroke-width="2.3"><path d="M10 3.6H2.3V18H16.9V10.4M11.3 8.8L19.4 .7M14.3 .9H19.6V6"/></svg>
<div class="row" style="top:1468px;height:106px;background:#fff"></div>
<div class="up" style="left:546px;top:1480px"><svg style="left:0;top:0" width="60" height="60"><path d="M30 15L44 29H36V46H24V29H16Z" fill="#fff"/></svg></div>
<div class="t " style="left:634.0px;top:1485.4px;font-size:28.5px;line-height:34px;color:#3a87c8;letter-spacing:-0.05px;">guarddutythreads</div>
<div class="t " style="left:633.8px;top:1528.6px;font-size:20px;line-height:24px;color:#555;letter-spacing:-0.41px;">S3 Bucket</div>
<div class="abs" style="left:734.0px;top:1532.7px;width:1.8px;height:18.5px;background:#666"></div>
<div class="tag" style="left:752.5px;top:1524.5px;width:108.5px;letter-spacing:-0.42px;color:#555">simple:and</div>
<div class="tag" style="left:874.5px;top:1524.5px;width:72.5px;letter-spacing:-0.35px;color:#555">tag:val</div>
<div class="tag" style="left:960.5px;top:1524.5px;width:122.5px;letter-spacing:-0.20px;color:#555">TagTest:true</div>
<svg style="left:1103.5px;top:1526px" width="21" height="23" fill="#cbcbcb"><path d="M0.2 4.1L8.7 5.4L18.1 14.6L11.3 22L1.5 12.6ZM4.8 7a1.8 1.8 0 1 0 .01 0ZM2.2 .2L10.2 1.3L20 11.3L18.7 13.1L9 3.7L2.4 2.8Z" fill-rule="evenodd"/></svg>
<div class="t " style="left:1719.5px;top:1503.6px;font-size:28px;line-height:34px;color:#444;letter-spacing:0.14px;">17,449,145 Count</div>
<div class="t " style="left:2119.5px;top:1503.6px;font-size:28px;line-height:34px;color:#444;letter-spacing:-0.04px;">in 2 minutes</div>
<svg style="left:3286px;top:1512.0px" width="20" height="17"><path d="M2 1.6H18M2 8.1H18M2 14.6H18" stroke="#cccccc" stroke-width="3.1" stroke-linecap="round"/></svg>
<div class="row" style="top:1574px;height:102px;background:#f7f7f7"></div>
<div class="up" style="left:546px;top:1586px"><svg style="left:0;top:0" width="60" height="60"><path d="M30 15L44 29H36V46H24V29H16Z" fill="#fff"/></svg></div>
<div class="t " style="left:634.0px;top:1591.4px;font-size:28.5px;line-height:34px;color:#3a87c8;letter-spacing:0.12px;">i-06f1bc659ab62c296</div>
<div class="t " style="left:633.8px;top:1634.6px;font-size:20px;line-height:24px;color:#555;letter-spacing:-0.42px;">EC2 Instance</div>
<div class="abs" style="left:762.0px;top:1638.7px;width:1.8px;height:18.5px;background:#666"></div>
<svg style="left:787.5px;top:1632px" width="21" height="23" fill="#cbcbcb"><path d="M0.2 4.1L8.7 5.4L18.1 14.6L11.3 22L1.5 12.6ZM4.8 7a1.8 1.8 0 1 0 .01 0ZM2.2 .2L10.2 1.3L20 11.3L18.7 13.1L9 3.7L2.4 2.8Z" fill-rule="evenodd"/></svg>
<div class="t " style="left:1719.5px;top:1607.6px;font-size:28px;line-height:34px;color:#444;">-</div>
<div class="t " style="left:2119.5px;top:1607.6px;font-size:28px;line-height:34px;color:#444;letter-spacing:-0.22px;">in a minute</div>
<svg style="left:3286px;top:1616.0px" width="20" height="17"><path d="M2 1.6H18M2 8.1H18M2 14.6H18" stroke="#cccccc" stroke-width="3.1" stroke-linecap="round"/></svg>
<div class="row" style="top:1676px;height:106px;background:#fff"></div>
<div class="up" style="left:546px;top:1688px"><svg style="left:0;top:0" width="60" height="60"><path d="M30 15L44 29H36V46H24V29H16Z" fill="#fff"/></svg></div>
<div class="t " style="left:634.0px;top:1693.4px;font-size:28.5px;line-height:34px;color:#3a87c8;letter-spacing:-0.25px;">testvpcaws</div>
<div class="t " style="left:633.8px;top:1736.6px;font-size:20px;line-height:24px;color:#555;letter-spacing:-0.41px;">S3 Bucket</div>
<div class="abs" style="left:734.0px;top:1740.7px;width:1.8px;height:18.5px;background:#666"></div>
<div class="tag" style="left:752.5px;top:1732.5px;width:158.5px;letter-spacing:0.08px;color:#555">Testing:Replic...</div>
<div class="tag" style="left:924.5px;top:1732.5px;width:122.5px;letter-spacing:-0.20px;color:#555">TestTag:true</div>
<svg style="left:1067px;top:1734px" width="21" height="23" fill="#cbcbcb"><path d="M0.2 4.1L8.7 5.4L18.1 14.6L11.3 22L1.5 12.6ZM4.8 7a1.8 1.8 0 1 0 .01 0ZM2.2 .2L10.2 1.3L20 11.3L18.7 13.1L9 3.7L2.4 2.8Z" fill-rule="evenodd"/></svg>
<div class="t " style="left:1719.5px;top:1711.6px;font-size:28px;line-height:34px;color:#444;letter-spacing:0.25px;">883,960 Count</div>
<div class="t " style="left:2119.5px;top:1711.6px;font-size:28px;line-height:34px;color:#444;letter-spacing:-0.22px;">in a minute</div>
<svg style="left:3286px;top:1720.0px" width="20" height="17"><path d="M2 1.6H18M2 8.1H18M2 14.6H18" stroke="#cccccc" stroke-width="3.1" stroke-linecap="round"/></svg>
<div class="abs" style="left:518px;top:1746px;width:2838px;height:12px;background:linear-gradient(rgba(0,0,0,0),rgba(0,0,0,.075))"></div>
<div class="abs" style="left:0;top:1758px;width:3356px;height:4px;background:#fff"></div>
<div class="abs" style="left:524px;top:1758px;width:2832px;height:3px;background:linear-gradient(rgba(0,0,0,.05),rgba(0,0,0,0))"></div>
</body></html>
